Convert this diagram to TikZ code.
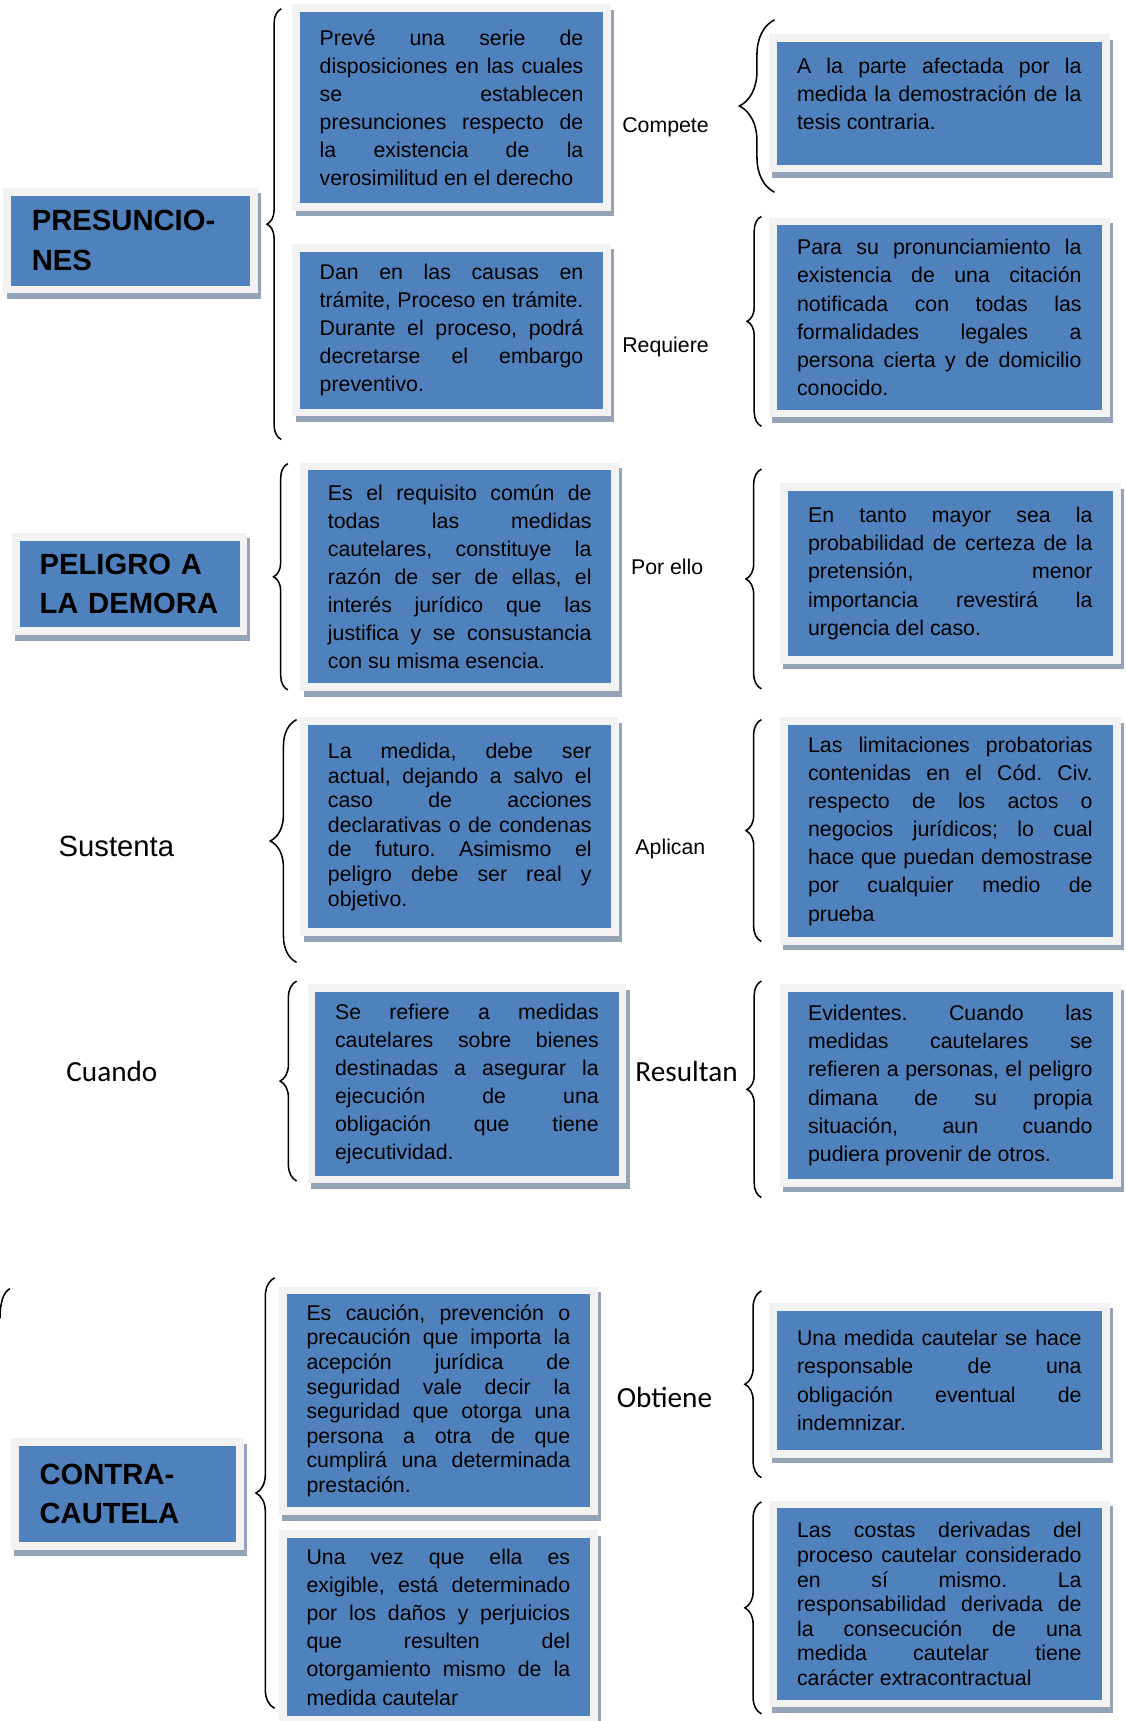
\documentclass[tikz,border=0pt]{standalone}
\usepackage{fontspec}
\setmainfont{Liberation Sans}
\newfontfamily\calibri{Carlito}
\usetikzlibrary{decorations.pathreplacing}

\definecolor{azul}{HTML}{4F81BD}
\definecolor{marco}{HTML}{F2F2F2}
\definecolor{sombra}{HTML}{95A3B7}
\newcommand{\parrafo}{\frenchspacing\hyphenpenalty=10000\tolerance=10000\hbadness=10000}

\begin{document}
\begin{tikzpicture}
                [
                x=0.5pt, y=-0.5pt,
                caja/.style={rectangle, fill=azul, draw=marco, line width=3.5pt, inner sep=2pt, align=justify,
                  preaction={fill=sombra, draw=sombra, line width=3.5pt, transform canvas={xshift=1.5pt, yshift=-2.5pt}},
                  font={\fontsize{9.7pt}{12.8pt}\selectfont\parrafo}},
                izq/.style={caja, minimum width=141.5pt, text width=120pt},
                der/.style={caja, minimum width=151.5pt, text width=129.5pt},
                junto/.style={font={\fontsize{9.7pt}{11.2pt}\selectfont\parrafo}},
                titulo/.style={caja, align=left, inner sep=0pt, font={\fontsize{13.3pt}{18pt}\selectfont\bfseries}},
                rotulo/.style={anchor=west, inner sep=0pt, font={\fontsize{9.7pt}{12pt}\selectfont}},
                grande/.style={anchor=west, inner sep=0pt, font={\calibri\fontsize{13.3pt}{16pt}\selectfont}},
                llave/.style={decorate, decoration={brace, amplitude=#1}, line width=0.7pt}
                ]
            \useasboundingbox (0,0) rectangle (1024,1566.5);
            \node[titulo, minimum width=112.5pt, minimum height=44.5pt, text width=90pt] (presunciones) at (119,219) {PRESUNCIO-\\NES};
            \node[izq, minimum height=90.5pt] (preve) at (411,98) {Prevé una serie de\linebreak disposiciones en las cuales\linebreak se establecen\linebreak presunciones respecto de\linebreak la existencia de la\linebreak verosimilitud en el derecho};
            \node[izq, minimum height=75pt] (dan) at (411,300.5) {Dan en las causas en\linebreak trámite, Proceso en trámite.\linebreak Durante el proceso, podrá\linebreak decretarse el embargo\linebreak preventivo.};
            \node[rotulo] (compete) at (566,116) {Compete};
            \node[rotulo] (requiere) at (566,316) {Requiere};
            \node[der, minimum height=59.5pt] (parte) at (855,94) {A la parte afectada por la\linebreak medida la demostración de la\linebreak tesis contraria.\\[-4pt]\mbox{}};
            \node[der, minimum height=87.5pt] (para) at (855,289) {Para su pronunciamiento la\linebreak existencia de una citación\linebreak notificada con todas las\linebreak formalidades legales a\linebreak persona cierta y de domicilio\linebreak conocido.};

            \node[titulo, minimum width=103.5pt, minimum height=43pt, text width=82pt] (peligro) at (118,531.5) {PELIGRO A\\LA DEMORA};
            \node[izq, minimum height=100.5pt] (requisito) at (418.5,525) {Es el requisito común de\linebreak todas las medidas\linebreak cautelares, constituye la\linebreak razón de ser de ellas, el\linebreak interés jurídico que las\linebreak justifica y se consustancia\linebreak con su misma esencia.};
            \node[rotulo] (porello) at (574,516) {Por ello};
            \node[der, minimum height=78.5pt] (tanto) at (865,522) {En tanto mayor sea la\linebreak probabilidad de certeza de la\linebreak pretensión, menor\linebreak importancia revestirá la\linebreak urgencia del caso.};

            \node[rotulo, font={\fontsize{13.3pt}{16pt}\selectfont}] (sustenta) at (53,770) {Sustenta};
            \node[izq, junto, minimum height=96pt] (actual) at (418.5,752.5) {La medida, debe ser\linebreak actual, dejando a salvo el\linebreak caso de acciones\linebreak declarativas o de condenas\linebreak de futuro. Asimismo el\linebreak peligro debe ser real y\linebreak objetivo.};
            \node[rotulo] (aplican) at (578,773) {Aplican};
            \node[der, minimum height=100pt] (limitaciones) at (865,756.5) {Las limitaciones probatorias\linebreak contenidas en el Cód. Civ.\linebreak respecto de los actos o\linebreak negocios jurídicos; lo cual\linebreak hace que puedan demostrase\linebreak por cualquier medio de\linebreak prueba};

            \node[grande] (cuando) at (60,975) {Cuando};
            \node[izq, minimum height=87pt] (bienes) at (425,986.5) {Se refiere a medidas\linebreak cautelares sobre bienes\linebreak destinadas a asegurar la\linebreak ejecución de una\linebreak obligación que tiene\linebreak ejecutividad.};
            \node[grande] (resultan) at (578,975) {Resultan};
            \node[der, minimum height=88.5pt] (evidentes) at (865,988) {Evidentes. Cuando las\linebreak medidas cautelares se\linebreak refieren a personas, el peligro\linebreak dimana de su propia\linebreak situación, aun cuando\linebreak pudiera provenir de otros.};

            \node[titulo, minimum width=102.5pt, minimum height=47.5pt, text width=80pt] (contracautela) at (116,1360) {CONTRA-\\CAUTELA};
            \node[izq, junto, minimum height=100.5pt] (caucion) at (399,1275) {Es caución, prevención o\linebreak precaución que importa la\linebreak acepción jurídica de\linebreak seguridad vale decir la\linebreak seguridad que otorga una\linebreak persona a otra de que\linebreak cumplirá una determinada\linebreak prestación.};
            \node[izq, minimum height=84.5pt] (exigible) at (399,1481) {Una vez que ella es\linebreak exigible, está determinado\linebreak por los daños y perjuicios\linebreak que resulten del\linebreak otorgamiento mismo de la\linebreak medida cautelar};
            \node[grande] (obtiene) at (561,1272) {Obtiene};
            \node[der, minimum height=67pt] (indemnizar) at (855,1256.5) {Una medida cautelar se hace\linebreak responsable de una\linebreak obligación eventual de\linebreak indemnizar.};
            \node[der, junto, minimum height=90.5pt] (costas) at (855,1460) {Las costas derivadas del\linebreak proceso cautelar considerado\linebreak en sí mismo. La\linebreak responsabilidad derivada de\linebreak la consecución de una\linebreak medida cautelar tiene\linebreak carácter extracontractual};

            \draw[llave=6.5pt] (256,400) -- (256,8);
            \draw[llave=16pt] (705,175) -- (705,18);
            \draw[llave=6.5pt] (693,388) -- (693,197);
            \draw[llave=6.5pt] (262,628) -- (262,422);
            \draw[llave=7pt] (693,627) -- (693,427);
            \draw[llave=12pt] (270,876) -- (270,655);
            \draw[llave=7pt] (693,857) -- (693,655);
            \draw[llave=7.5pt] (270,1075) -- (270,893);
            \draw[llave=6.5pt] (693,1090) -- (693,893);
            \draw[llave=8.5pt] (250,1555) -- (250,1163);
            \draw[llave=7.5pt] (693,1345) -- (693,1175);
            \draw[llave=7.5pt] (693,1560) -- (693,1367);
            \draw[line width=0.7pt] (9,1173) .. controls (3,1176) and (0,1186) .. (0,1200);
            \end{tikzpicture}
\end{document}
